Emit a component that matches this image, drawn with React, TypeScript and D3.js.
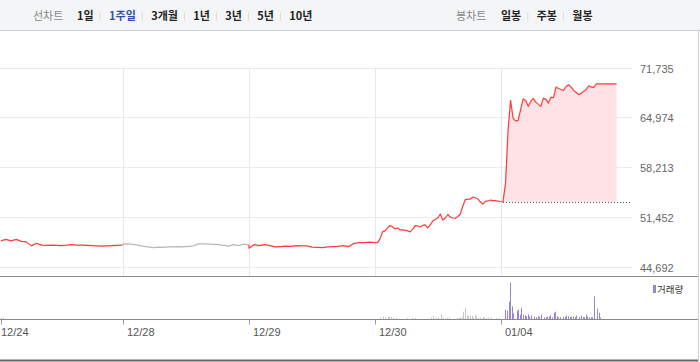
import * as d3 from "d3";
import { useEffect, useRef } from "react";

// trading days shown in the 1-week view
const days = ["12/24", "12/28", "12/29", "12/30", "01/04"];

// intraday prices, evenly spread over each session
const price1224 = [48172, 48375, 48172, 48375, 48104, 48036, 47495, 47860, 47590, 47562, 47590, 47562, 47535,
    47590, 47671, 47590, 47590, 47562, 47535, 47495, 47454, 47495, 47535, 47562, 47590];
const price1228 = [47725, 47766, 47698, 47590, 47454, 47359, 47265, 47319, 47292, 47359, 47359, 47400, 47359,
    47427, 47495, 47766, 47766, 47725, 47698, 47671, 47562, 47454, 47671, 47535, 47725, 47630];
const price1229 = [47183, 47671, 47535, 47671, 47535, 47359, 47400, 47454, 47427, 47535, 47495, 47495, 47319,
    47292, 47265, 47359, 47400, 47427, 47535, 47400, 47833, 47942, 47942, 47996, 47942];
const price1230 = [47942, 47942, 48443, 49390, 49526, 49932, 50270, 50067, 49797, 49932, 49661, 49661, 49593,
    49526, 49390, 49729, 50243, 50203, 50067, 50270, 50338, 49932, 50338, 50880, 51083, 51286, 51828, 51015,
    51286, 51760, 51421, 51286, 51245, 51489, 51828, 52911, 53791, 53859, 53859, 54129, 53994, 53859, 53452,
    53182, 53588, 53588, 53723, 53655, 53655, 53588, 53493];
const price0104 = [53500, 56025, 63201, 67263, 64826, 64487, 64555, 66045, 67466, 67263, 66451, 67128, 67534,
    67033, 66722, 66451, 67575, 67399, 66898, 67710, 67629, 69064, 68888, 68753, 68617, 69159, 69389, 69064,
    68617, 68346, 68076, 68211, 68522, 68753, 69254, 69064, 69023, 69500, 69500, 69500, 69500, 69500, 69500,
    69500, 69500, 69500];
const prices = [price1224, price1228, price1229, price1230, price0104];
// part of each session covered by the data (fraction of a day)
const sessionSpan = [[0, 1], [0, 1], [0, 1], [0, 1], [0.02, 0.925]];
const lineColors = ["#ff3a3a", "#b8b8b8", "#ff3a3a", "#ff3a3a", "#ff3a3a"];
const prevClose = 53500;
const priceTicks = [44692, 51452, 58213, 64974, 71735];

// volume per 5 minute slot
const slotsPerDay = 78;
const vol1224 = [13000, 10000];
const vol1230 = [0, 0, 0, 13000, 0, 23000, 13000, 0, 23000, 23000,
    23000, 13000, 0, 10000, 0, 0, 0, 0, 0, 0,
    10000, 0, 0, 10000, 0, 10000, 0, 0, 0, 0,
    0, 0, 0, 0, 0, 13000, 33000, 0, 13000, 13000,
    0, 43000, 13000, 0, 0, 13000, 13000, 0, 0, 0,
    0, 10000, 13000, 13000, 23000, 73000, 113000, 37000, 27000, 33000,
    33000, 13000, 43000, 27000, 13000, 17000, 0, 23000, 13000, 13000,
    13000, 0, 13000, 0, 0, 10000, 0, 10000];
const vol0104 = [0, 0, 0, 93000, 83000, 173000, 363000, 127000, 57000, 0,
    83000, 93000, 43000, 113000, 43000, 37000, 27000, 47000, 27000, 37000,
    0, 23000, 17000, 27000, 23000, 43000, 0, 17000, 17000, 23000,
    27000, 37000, 17000, 63000, 73000, 27000, 17000, 17000, 0, 20000,
    23000, 33000, 27000, 20000, 23000, 27000, 20000, 33000, 0, 20000,
    33000, 20000, 17000, 43000, 23000, 17000, 17000, 17000, 227000, 0,
    103000, 63000, 13000];
const volumes = [vol1224, [], [], vol1230, vol0104];
const volColors = ["#c8c8c8", "#c8c8c8", "#c8c8c8", "#c8c8c8", "#9a86cb"];

const periodButtons = ["1일", "1주일", "3개월", "1년", "3년", "5년", "10년"];
const candleButtons = ["일봉", "주봉", "월봉"];

function App() {
    const svgRef = useRef<SVGSVGElement>(null);

    useEffect(() => {
        const svg = d3.select(svgRef.current);
        svg.selectAll("*").remove();
        const width = 700;

        const x = d3.scaleLinear().domain([0, 1, 2, 3, 4, 5]).range([1, 122.5, 249, 375, 500.5, 626]);
        const y = d3.scaleLinear()
            .domain([priceTicks[0], priceTicks[priceTicks.length - 1]])
            .range([266.5, 67.5]);
        const yVol = d3.scaleLinear().domain([0, 420000]).range([319, 277]);

        // menu bar
        svg.append("rect").attr("width", width).attr("height", 30).attr("fill", "#f4f5f7");
        svg.append("line").attr("x1", 0).attr("x2", width).attr("y1", 30.5).attr("y2", 30.5).attr("stroke", "#cfd1d5");
        svg.append("line").attr("x1", 698.5).attr("x2", 698.5).attr("y1", 31).attr("y2", 362).attr("stroke", "#cfcfcf");

        const menu = svg.append("g")
            .attr("font-family", "'Noto Sans CJK KR', sans-serif")
            .attr("font-size", 11);

        const drawMenu = (title: string, titleX: number, items: string[], startX: number, active: number) => {
            menu.append("text").attr("x", titleX).attr("y", 20).attr("fill", "#888").text(title);
            let cx = startX;
            items.forEach((label, i) => {
                const t = menu.append("text")
                    .attr("x", cx).attr("y", 20)
                    .attr("font-weight", "bold")
                    .attr("fill", i === active ? "#2d4fb8" : "#222")
                    .text(label);
                cx += (t.node() as SVGTextElement).getComputedTextLength();
                if (i < items.length - 1) {
                    menu.append("line")
                        .attr("x1", cx + 6.5).attr("x2", cx + 6.5)
                        .attr("y1", 12).attr("y2", 21)
                        .attr("stroke", "#dcdcdc");
                    cx += 15.4;
                }
            });
        };
        drawMenu("선차트", 33, periodButtons, 77, 1);
        drawMenu("봉차트", 456, candleButtons, 501, -1);

        // grid + price axis labels
        const topY = Math.round(y(priceTicks[priceTicks.length - 1])) + 0.5;
        priceTicks.forEach(v => {
            const gy = Math.round(y(v)) + 0.5;
            svg.append("line").attr("x1", 0).attr("x2", 632).attr("y1", gy).attr("y2", gy).attr("stroke", "#ebebeb");
            svg.append("text")
                .attr("x", 640).attr("y", gy + 4)
                .attr("font-family", "'Liberation Sans', Arial, sans-serif")
                .attr("font-size", 11)
                .attr("fill", "#666")
                .text(d3.format(",")(v));
        });
        days.forEach((d, i) => {
            if (i === 0) return;
            const gx = Math.round(x(i)) + 0.5;
            svg.append("line").attr("x1", gx).attr("x2", gx).attr("y1", topY).attr("y2", 276).attr("stroke", "#e8e8e8");
        });

        // price series
        const dayPoints = prices.map((vals, d) => {
            const [s, e] = sessionSpan[d];
            return vals.map((v, i) => [d + s + (e - s) * i / (vals.length - 1), v] as [number, number]);
        });

        const last = dayPoints[dayPoints.length - 1];
        const area = d3.area<[number, number]>()
            .x(p => x(p[0]))
            .y0(y(prevClose))
            .y1(p => y(p[1]));
        svg.append("path").datum(last).attr("d", area).attr("fill", "#fde3e6");

        const by = Math.round(y(prevClose)) + 0.5;
        svg.append("line")
            .attr("x1", x(last[0][0])).attr("x2", 632)
            .attr("y1", by).attr("y2", by)
            .attr("stroke", "#555")
            .attr("stroke-dasharray", "1,2");

        const line = d3.line<[number, number]>().x(p => x(p[0])).y(p => y(p[1]));
        dayPoints.forEach((pts, d) => {
            const path = d > 0 ? [dayPoints[d - 1][dayPoints[d - 1].length - 1], ...pts] : pts;
            svg.append("path")
                .datum(path)
                .attr("d", line)
                .attr("fill", "none")
                .attr("stroke", lineColors[d])
                .attr("stroke-width", 1.2)
                .attr("stroke-linejoin", "round");
        });

        // panel borders
        svg.append("line").attr("x1", 0).attr("x2", 698).attr("y1", 276.5).attr("y2", 276.5).attr("stroke", "#8a8a8a");
        svg.append("line").attr("x1", 0).attr("x2", 698).attr("y1", 319.5).attr("y2", 319.5).attr("stroke", "#8a8a8a");
        svg.append("rect").attr("x", 0).attr("y", 359.5).attr("width", 698).attr("height", 2).attr("fill", "#666");

        // volume bars
        volumes.forEach((vals, d) => {
            vals.forEach((v, s) => {
                if (!v) return;
                svg.append("rect")
                    .attr("x", Math.round(x(d + s / slotsPerDay)))
                    .attr("y", yVol(v))
                    .attr("width", 1)
                    .attr("height", yVol(0) - yVol(v))
                    .attr("fill", volColors[d]);
            });
        });

        svg.append("rect").attr("x", 653).attr("y", 285).attr("width", 3).attr("height", 8).attr("fill", "#9a86cb");
        svg.append("text")
            .attr("x", 657).attr("y", 292.5)
            .attr("font-family", "'Noto Sans CJK KR', sans-serif")
            .attr("font-size", 9.5)
            .attr("fill", "#333")
            .text("거래량");

        // time axis
        days.forEach((d, i) => {
            const tx = Math.round(x(i)) + 0.5;
            svg.append("line").attr("x1", tx).attr("x2", tx).attr("y1", 320).attr("y2", 324.5).attr("stroke", "#999");
            svg.append("text")
                .attr("x", i === 0 ? 1 : tx + 3.5).attr("y", 336)
                .attr("font-family", "'Liberation Sans', Arial, sans-serif")
                .attr("font-size", 11)
                .attr("fill", "#555")
                .text(d);
        });
    }, []);

    return (
        <svg ref={svgRef} width={700} height={362}
            style={{ position: "absolute", left: 0, top: 0, display: "block", background: "#fff" }} />
    );
}

export default App;
